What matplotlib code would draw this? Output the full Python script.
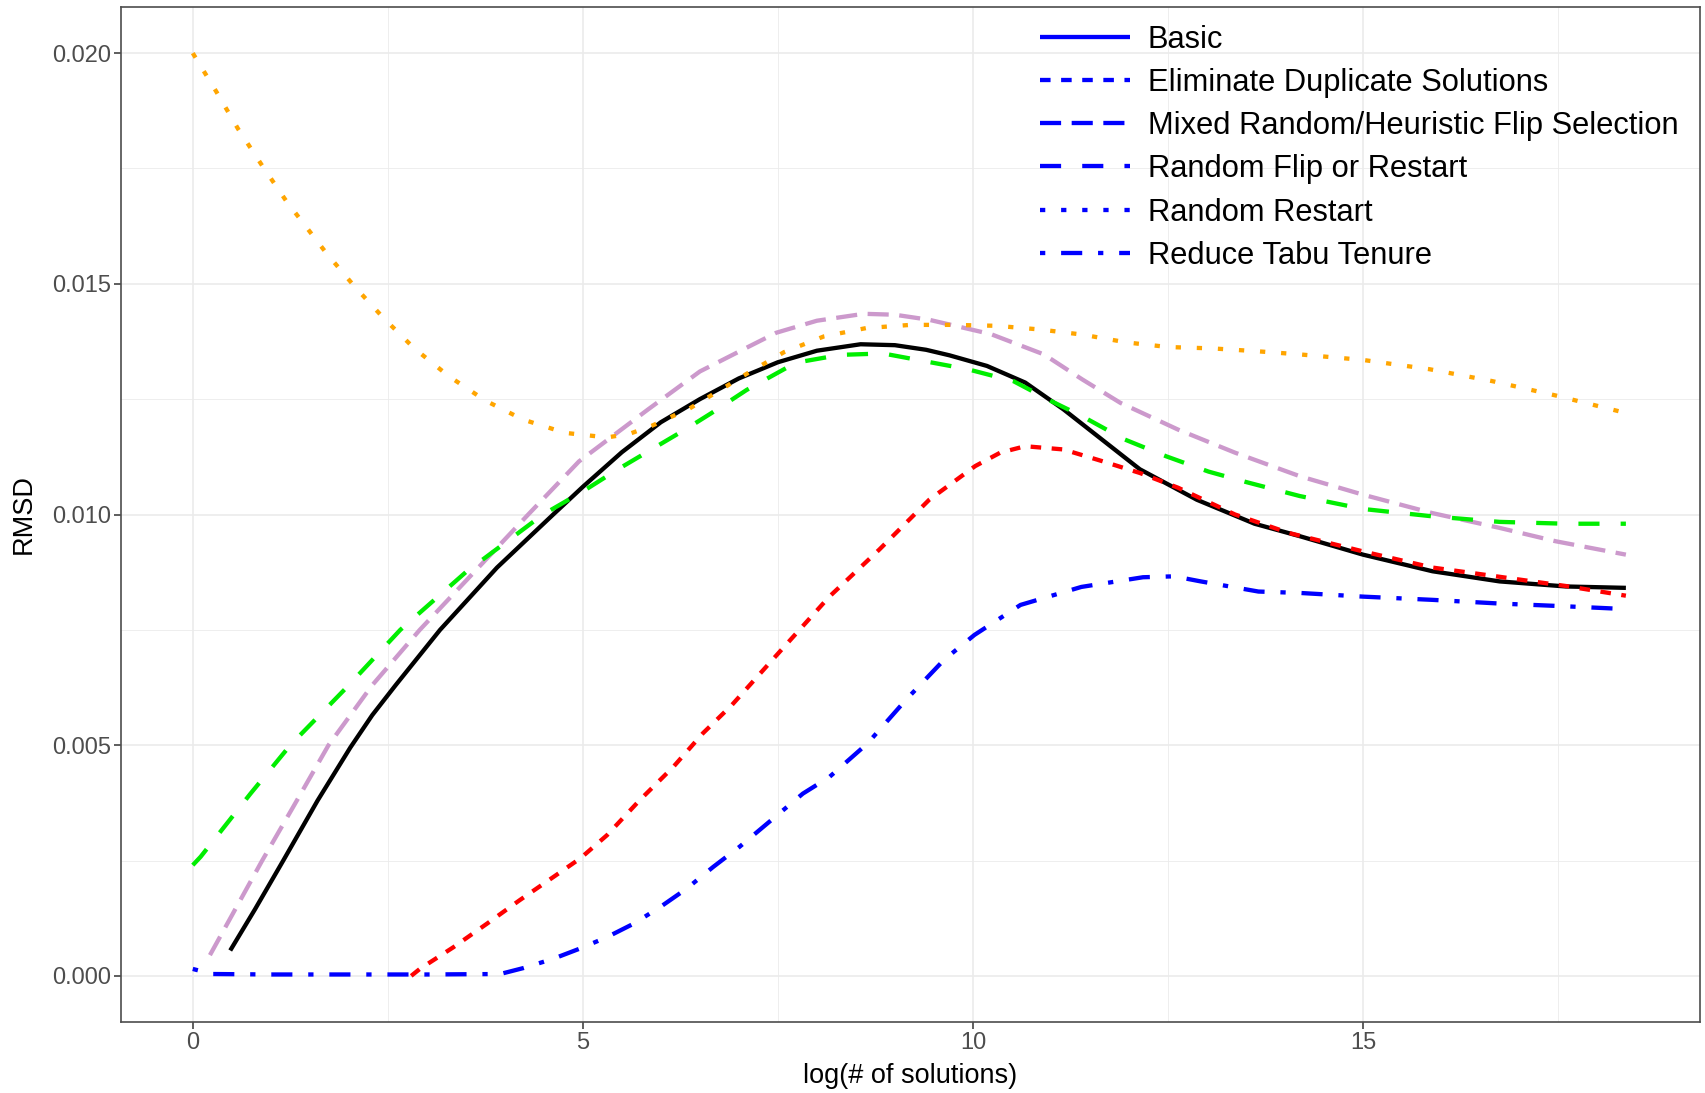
import numpy as np
import matplotlib
matplotlib.use('Agg')
import matplotlib.pyplot as plt
from matplotlib.lines import Line2D

plt.rcParams['font.family'] = ['Liberation Sans', 'DejaVu Sans']
plt.rcParams['lines.scale_dashes'] = False

labels = ['Basic', 'Eliminate Duplicate Solutions', 'Mixed Random/Heuristic Flip Selection',
          'Random Flip or Restart', 'Random Restart', 'Reduce Tabu Tenure']

# RMSD values below are in units of 1e-3
basic_x = [0.48, 0.8, 1.16, 1.6, 2.02, 2.3, 2.6, 3.17, 3.9, 4.62, 5.0, 5.5, 6.0, 6.5, 7.0, 7.5, 8.0, 8.56,
           9.0, 9.4, 9.7, 10.18, 10.67, 11.16, 11.65, 12.14, 12.87, 13.61, 14.19, 15.0, 15.89, 16.75, 17.6, 18.37]
basic_y = [0.55, 1.45, 2.5, 3.8, 4.95, 5.65, 6.3, 7.5, 8.85, 10.0, 10.6, 11.35, 12.0, 12.5, 12.95, 13.3, 13.55, 13.69,
           13.67, 13.57, 13.45, 13.22, 12.86, 12.28, 11.63, 10.98, 10.32, 9.8, 9.53, 9.13, 8.77, 8.55, 8.44, 8.41]

elim_x = [2.8, 2.91, 3.34, 3.77, 4.19, 4.62, 4.97, 5.31, 5.73, 6.16, 6.54, 6.91, 7.43, 8.16, 8.8, 9.44,
          10.03, 10.35, 10.67, 11.16, 11.65, 12.14, 12.63, 13.36, 14.05, 15.0, 15.89, 16.75, 17.6, 18.37]
elim_y = [0.0, 0.15, 0.62, 1.13, 1.64, 2.14, 2.55, 3.05, 3.81, 4.53, 5.26, 5.87, 6.85, 8.22, 9.24, 10.32,
          11.05, 11.34, 11.48, 11.41, 11.16, 10.9, 10.58, 10.0, 9.6, 9.2, 8.85, 8.65, 8.45, 8.24]

mixed_x = [0.22, 0.89, 1.3, 1.74, 2.3, 2.91, 3.6, 4.3, 4.95, 5.83, 6.5, 7.14, 7.48, 8.0, 8.6, 9.0, 9.44,
           10.23, 10.91, 11.4, 11.89, 12.63, 13.36, 14.19, 15.0, 15.89, 16.75, 17.47, 18.37]
mixed_y = [0.45, 2.5, 3.7, 5.0, 6.3, 7.5, 8.74, 10.0, 11.15, 12.27, 13.1, 13.65, 13.94, 14.2, 14.35, 14.33, 14.22,
           13.91, 13.47, 12.93, 12.42, 11.84, 11.34, 10.83, 10.43, 10.03, 9.71, 9.42, 9.13]

flip_x = [0.0, 0.1, 0.74, 1.25, 2.0, 2.66, 3.5, 4.49, 5.0, 5.44, 6.32, 6.65, 7.1, 7.73, 8.3, 8.85, 9.93, 10.52,
          11.0, 11.4, 11.94, 12.48, 13.02, 13.51, 14.19, 15.0, 15.89, 16.75, 17.6, 18.37]
flip_y = [2.4, 2.58, 3.95, 5.0, 6.3, 7.5, 8.75, 10.0, 10.5, 10.97, 11.85, 12.2, 12.7, 13.29, 13.46, 13.49, 13.15, 12.89,
          12.46, 12.13, 11.63, 11.26, 10.93, 10.7, 10.4, 10.12, 9.96, 9.84, 9.8, 9.8]

restart_x = [0.0, 0.3, 0.58, 0.89, 1.2, 1.71, 2.08, 2.45, 2.84, 3.28, 3.75, 4.23, 4.77, 5.31, 5.6, 5.88, 6.37,
             6.86, 7.09, 7.58, 8.09, 8.63, 9.2, 9.74, 10.3, 10.86, 11.4, 11.97, 12.5, 13.07, 13.63, 14.19,
             15.0, 15.85, 16.66, 17.47, 18.37]
restart_y = [20.0, 19.17, 18.36, 17.56, 16.79, 15.67, 14.93, 14.25, 13.6, 13.0, 12.47, 12.06, 11.77, 11.67, 11.75,
             11.92, 12.3, 12.8, 13.04, 13.52, 13.86, 14.04, 14.11, 14.11, 14.09, 14.01, 13.9, 13.73, 13.63, 13.6,
             13.54, 13.47, 13.35, 13.15, 12.89, 12.58, 12.2]

tabu_x = [0.0, 0.25, 1.0, 2.0, 3.0, 3.94, 4.24, 4.62, 4.96, 5.31, 5.65, 5.99, 6.33, 6.67, 7.01, 7.44, 7.82,
          8.16, 8.65, 9.14, 9.63, 10.02, 10.61, 11.39, 12.18, 12.58, 12.92, 13.66, 14.19, 15.0, 15.89, 16.75,
          17.6, 18.37]
tabu_y = [0.15, 0.04, 0.03, 0.03, 0.03, 0.04, 0.17, 0.37, 0.59, 0.84, 1.13, 1.49, 1.89, 2.36, 2.8, 3.41, 3.95,
          4.31, 5.04, 5.98, 6.85, 7.39, 8.04, 8.43, 8.64, 8.66, 8.55, 8.33, 8.3, 8.22, 8.15, 8.07, 8.01, 7.95]

series = [(basic_x, basic_y), (elim_x, elim_y), (mixed_x, mixed_y),
          (flip_x, flip_y), (restart_x, restart_y), (tabu_x, tabu_y)]
colors = ['black', '#ff0000', '#cc99cc', '#00ee00', '#ffa500', '#0000ff']

U = 3.8   # dash unit, points
LW = 3.1
dash_styles = [None, (2 * U, 2 * U), (4 * U, 2 * U), (4 * U, 4 * U), (1 * U, 3 * U),
               (1 * U, 3 * U, 4 * U, 3 * U)]

fig = plt.figure(figsize=(17.05, 10.93), dpi=100)
W, H = 1705, 1093
ax = fig.add_axes([121 / W, 1 - 1022 / H, (1700 - 121) / W, (1022 - 7) / H])

for (x, y), c, d in zip(series, colors, dash_styles):
    yv = np.array(y) * 1e-3
    if d is None:
        ax.plot(x, yv, color=c, lw=LW, solid_capstyle='butt', solid_joinstyle='round')
    else:
        ax.plot(x, yv, color=c, lw=LW, dashes=d, dash_joinstyle='round')

ax.set_xlim(-0.92, 19.32)
ax.set_ylim(-0.001, 0.021)
ax.set_xticks([0, 5, 10, 15])
ax.set_xticks([2.5, 7.5, 12.5, 17.5], minor=True)
ax.set_yticks([0, 0.005, 0.010, 0.015, 0.020])
ax.set_yticks([0.0025, 0.0075, 0.0125, 0.0175], minor=True)
ax.set_yticklabels(['0.000', '0.005', '0.010', '0.015', '0.020'])
ax.set_axisbelow(True)
ax.grid(which='major', color='#ebebeb', lw=1.2)
ax.grid(which='minor', color='#ebebeb', lw=0.6)
ax.tick_params(which='major', length=5, width=1.1, color='#333333', labelcolor='#4d4d4d',
               labelsize=17, pad=2)
ax.tick_params(which='minor', length=0)
for s in ax.spines.values():
    s.set_color('#4d4d4d')
    s.set_linewidth(1.2)

ax.set_xlabel('log(# of solutions)', fontsize=19.5, va='center')
ax.xaxis.set_label_coords(0.5, (1022 - 1076) / 1015)
ax.set_ylabel('RMSD', fontsize=19.5, va='center')
ax.yaxis.set_label_coords((24 - 121) / 1579, 0.5)

handles = []
for d in dash_styles:
    if d is None:
        handles.append(Line2D([0], [0], color='#0000ff', lw=LW, solid_capstyle='butt'))
    else:
        handles.append(Line2D([0], [0], color='#0000ff', lw=LW, dashes=d))
ax.legend(handles, labels, loc='upper left', bbox_to_anchor=(1040 / W, 1 - 24.5 / H),
          bbox_transform=fig.transFigure, frameon=False, fontsize=22.2, handlelength=2.92,
          handletextpad=0.58, labelspacing=0.43, borderpad=0, borderaxespad=0)

fig.savefig('out.png', dpi=100)
